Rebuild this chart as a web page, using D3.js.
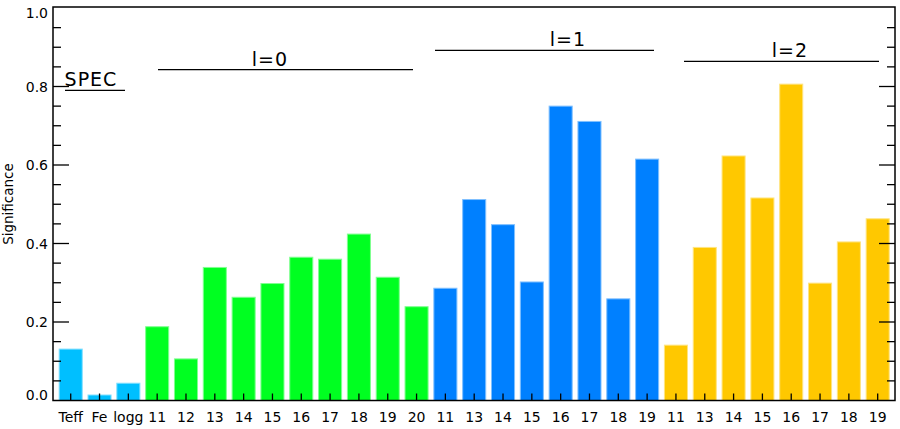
<!DOCTYPE html>
<html><head><meta charset="utf-8">
<script src="https://cdn.jsdelivr.net/npm/d3@7"></script>
<style>body{margin:0;background:#fff}svg{display:block}text{font-family:"DejaVu Sans",sans-serif;fill:#000}</style>
</head><body>
<svg id="c" width="900" height="429"></svg>
<script>
const categories = ["Teff","Fe","logg","11","12","13","14","15","16","17","18","19","20","11","13","14","15","16","17","18","19","11","13","14","15","16","17","18","19"];
const groups = ["SPEC","SPEC","SPEC","l0","l0","l0","l0","l0","l0","l0","l0","l0","l0","l1","l1","l1","l1","l1","l1","l1","l1","l2","l2","l2","l2","l2","l2","l2","l2"];
const values = [0.131,0.014,0.044,0.188,0.106,0.339,0.263,0.298,0.365,0.360,0.424,0.314,0.239,0.286,0.512,0.448,0.302,0.750,0.711,0.259,0.615,0.141,0.390,0.623,0.516,0.806,0.299,0.404,0.463];
const yTicks = [0.0,0.2,0.4,0.6,0.8,1.0];
const groupLabels = [
  {name:"SPEC", text:"SPEC", x1:65, x2:125, y:0.79, tx:91},
  {name:"l0", text:"l=0", x1:158, x2:413, y:0.843, tx:270},
  {name:"l1", text:"l=1", x1:435, x2:654, y:0.892, tx:568},
  {name:"l2", text:"l=2", x1:684, x2:879, y:0.864, tx:790}
];
const colors = {SPEC:"#00bfff", l0:"#00ff21", l1:"#0080ff", l2:"#ffc800"};
const strokes = {SPEC:"#80dfff", l0:"#80ff90", l1:"#80c0ff", l2:"#ffe480"};

const svg = d3.select("#c");
const L=53, R=895, T=7, B=400.5;
const y = d3.scaleLinear().domain([0,1]).range([B, B-392.5]);
const x = d3.scaleBand().domain(d3.range(categories.length)).range([56.3, 892.1]).paddingInner(0.2).paddingOuter(0.1);

// bars
svg.append("g").selectAll("rect").data(values).join("rect")
  .attr("x",(d,i)=>x(i)).attr("width",x.bandwidth())
  .attr("y",d=>y(d)).attr("height",d=>B-y(d))
  .attr("fill",(d,i)=>colors[groups[i]])
  .attr("stroke",(d,i)=>strokes[groups[i]]).attr("stroke-width",1);

// minor/major ticks left and right
const minor = d3.range(0,1.0001,0.05);
const tg = svg.append("g").attr("stroke","#000").attr("stroke-width",1.3);
minor.forEach(v=>{
  const major = Math.abs(v*5-Math.round(v*5))<1e-6;
  const len = major?16:8;
  if (v>0 && v<1){
    tg.append("line").attr("x1",L).attr("x2",L+len).attr("y1",y(v)).attr("y2",y(v));
    tg.append("line").attr("x1",R).attr("x2",R-len).attr("y1",y(v)).attr("y2",y(v));
  }
});
// bottom ticks
categories.forEach((c,i)=>{
  const cx = x(i)+x.bandwidth()/2;
  tg.append("line").attr("x1",cx).attr("x2",cx).attr("y1",B).attr("y2",B-7);
});
// frame
svg.append("rect").attr("x",L).attr("y",T).attr("width",R-L).attr("height",B-T)
  .attr("fill","none").attr("stroke","#000").attr("stroke-width",1.5);

// y tick labels
svg.append("g").selectAll("text").data(yTicks).join("text")
  .attr("x",48).attr("y",d=> d===0 ? B-0.5 : (d===1 ? y(d)+9.5 : y(d)+5))
  .attr("text-anchor","end")
  .attr("font-size",14).text(d=>d.toFixed(1));

// x labels
svg.append("g").selectAll("text").data(categories).join("text")
  .attr("x",(d,i)=>x(i)+x.bandwidth()/2).attr("y",422).attr("text-anchor","middle")
  .attr("font-size",14).text(d=>d);

// y axis title
svg.append("text").attr("transform","translate(13,204) rotate(-90)")
  .attr("text-anchor","middle").attr("font-size",13.5).text("Significance");

// group labels
const gg = svg.append("g");
groupLabels.forEach(g=>{
  gg.append("line").attr("x1",g.x1).attr("x2",g.x2).attr("y1",y(g.y)).attr("y2",y(g.y))
    .attr("stroke","#000").attr("stroke-width",1.3);
  gg.append("text").attr("x",g.tx).attr("y",y(g.y)-4).attr("text-anchor","middle")
    .attr("font-size",19).attr("letter-spacing",1).text(g.text);
});
</script>
</body></html>
